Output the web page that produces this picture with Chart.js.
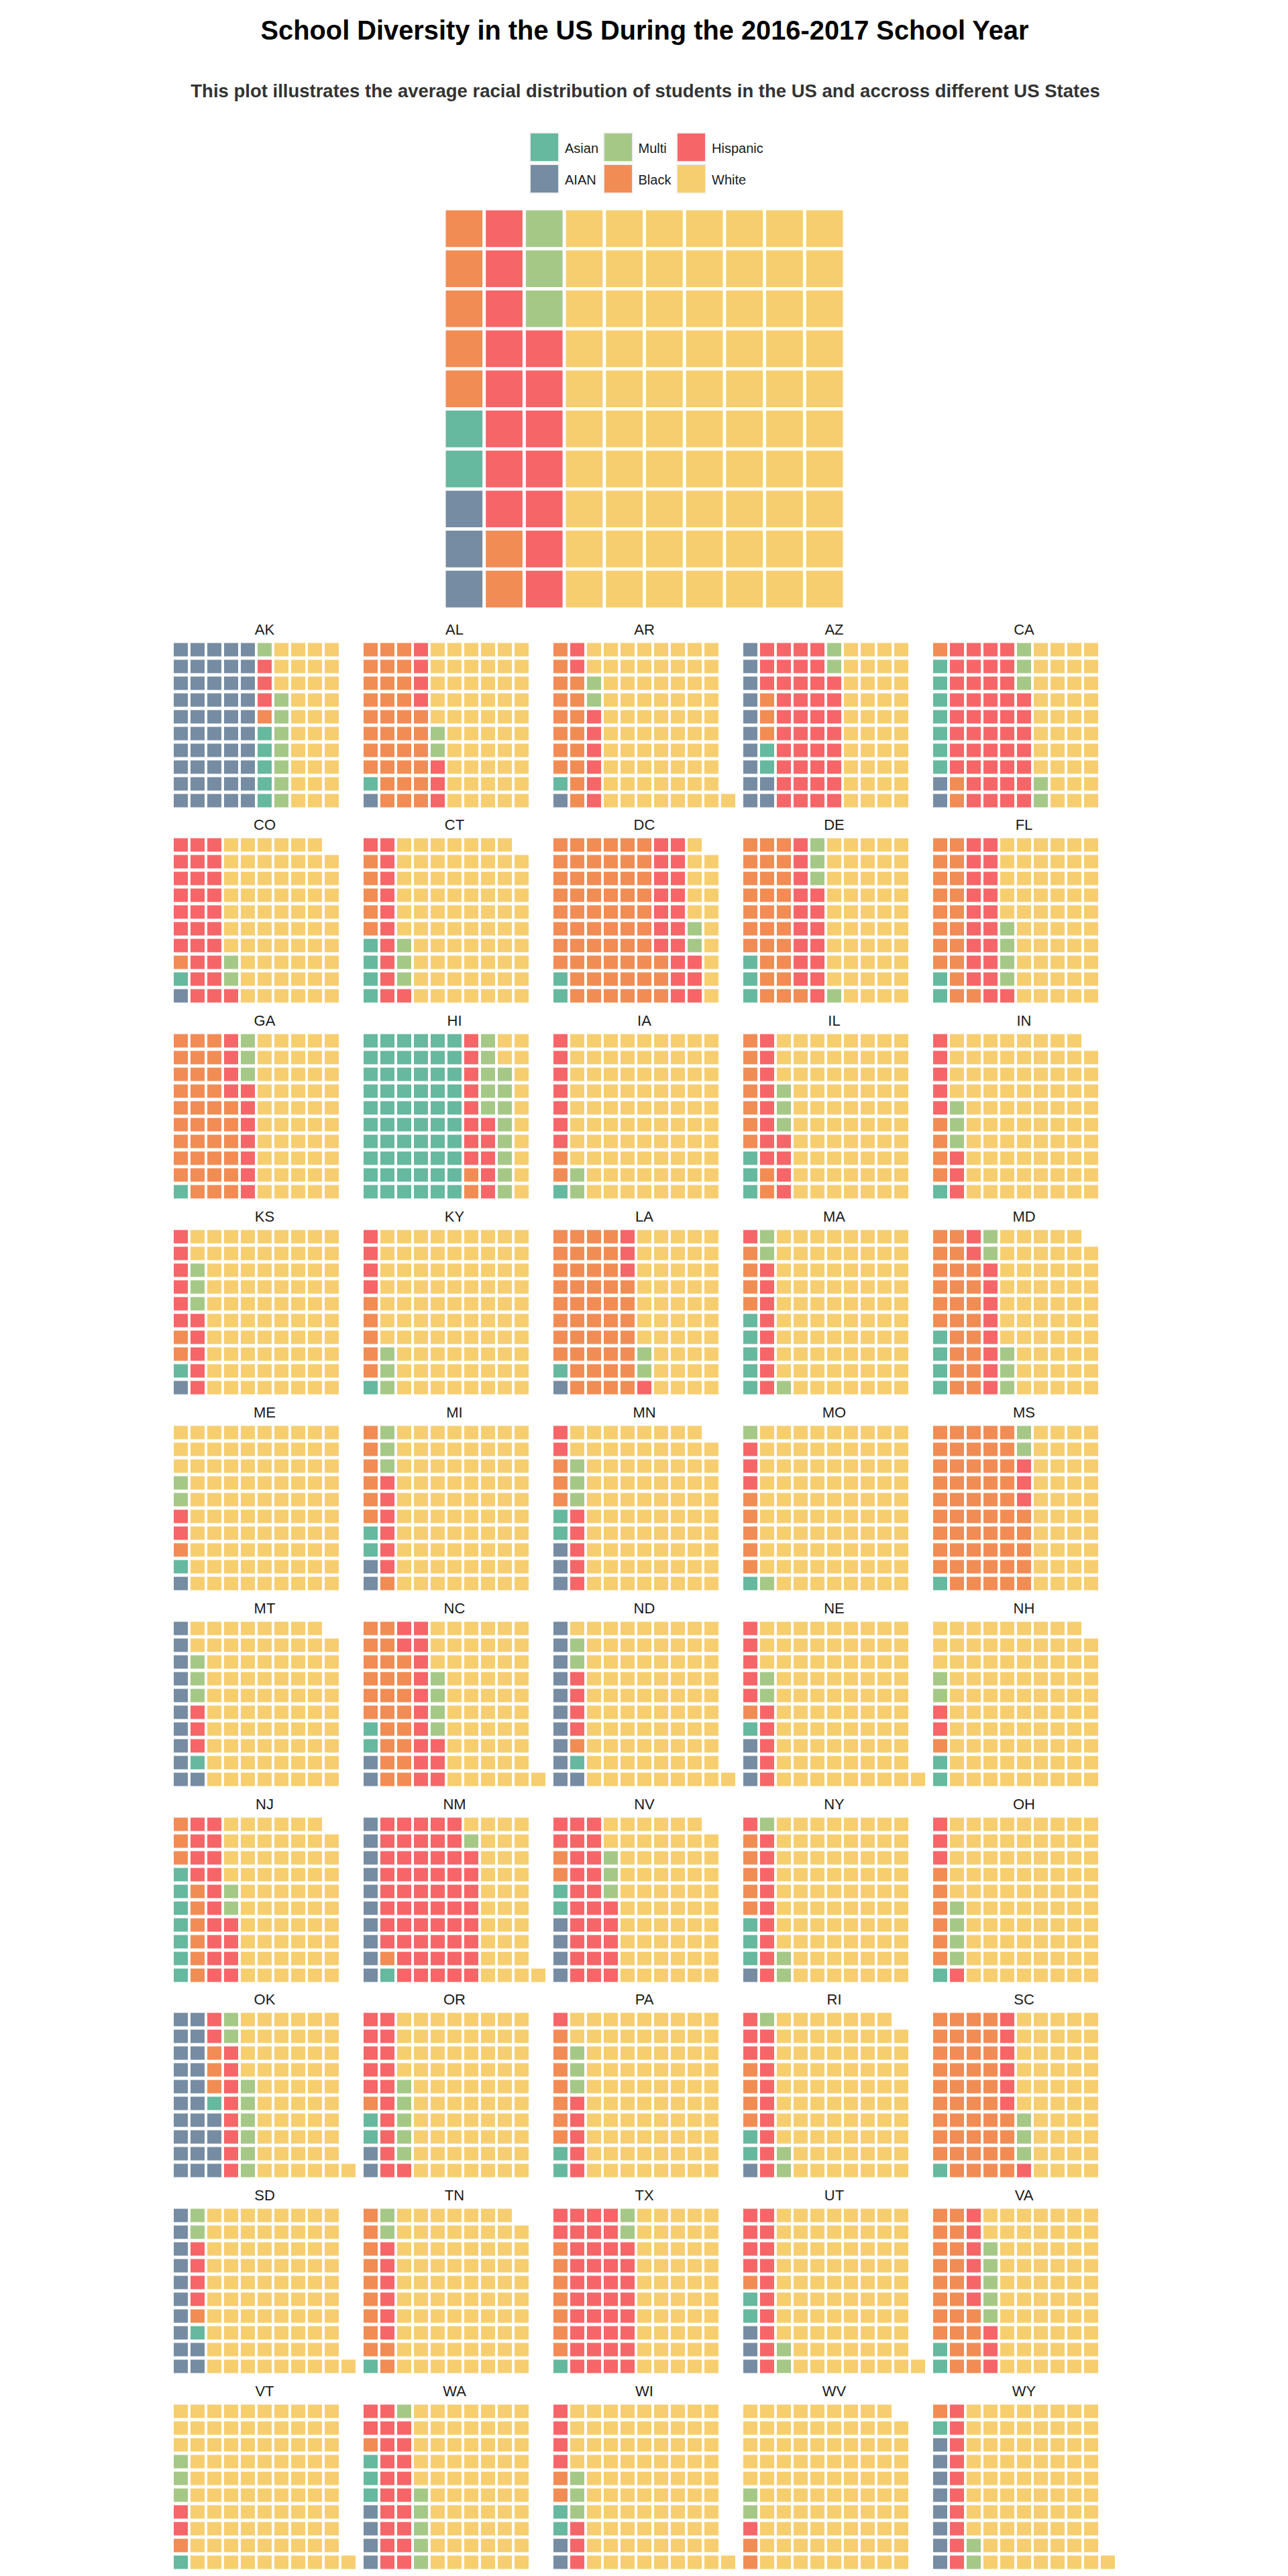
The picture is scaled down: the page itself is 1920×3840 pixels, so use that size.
<!DOCTYPE html>
<html>
<head>
<meta charset="utf-8">
<title>School Diversity in the US During the 2016-2017 School Year</title>
<script src="https://cdn.jsdelivr.net/npm/chart.js@4.4.1/dist/chart.umd.min.js"></script>
<style>
html,body{margin:0;padding:0;background:#ffffff;}
body{position:relative;width:1920px;height:3840px;overflow:hidden;font-family:"Liberation Sans",Arial,Helvetica,sans-serif;}
.abs{position:absolute;white-space:nowrap;line-height:1;}
#title{left:0;width:1922px;text-align:center;top:26px;font-size:39.8px;font-weight:bold;color:#000000;}
#subtitle{left:0;width:1924px;text-align:center;top:122px;font-size:27.5px;font-weight:bold;color:#333333;}
.key{position:absolute;width:41px;height:41px;border:2px solid #f0f0f0;}
.klabel{position:absolute;font-size:20px;line-height:1;color:#1a1a1a;white-space:nowrap;}
.plabel{position:absolute;width:200px;text-align:center;font-size:22px;line-height:1;color:#1a1a1a;}
canvas{position:absolute;display:block;}
</style>
</head>
<body>
<div id="title" class="abs">School Diversity in the US During the 2016-2017 School Year</div>
<div id="subtitle" class="abs">This plot illustrates the average racial distribution of students in the US and accross different US States</div>
<div id="legend"></div>
<div id="panels"></div>
<script>
// ---- data ----
const categories = ['AIAN', 'Asian', 'Black', 'Hispanic', 'Multi', 'White'];
const legendOrder = ['Asian', 'Multi', 'Hispanic', 'AIAN', 'Black', 'White'];
const usAverage = [3, 2, 7, 15, 3, 70];
const states = ['AK','AL','AR','AZ','CA','CO','CT','DC','DE','FL','GA','HI','IA','IL','IN','KS','KY','LA','MA','MD','ME','MI','MN','MO','MS','MT','NC','ND','NE','NH','NJ','NM','NV','NY','OH','OK','OR','PA','RI','SC','SD','TN','TX','UT','VA','VT','WA','WI','WV','WY'];
const aian     = [50,1,1,12,2,1,0,0,0,0,0,0,0,0,0,1,0,1,0,0,1,2,3,0,0,11,2,11,3,0,0,10,4,1,0,24,2,0,1,0,12,0,0,3,0,0,4,2,0,8];
const asian    = [5,1,1,2,7,1,4,2,3,2,1,60,1,3,1,1,1,1,5,4,1,2,2,1,1,1,2,1,1,2,7,1,2,3,1,1,2,2,2,1,1,1,1,2,2,1,3,2,0,1];
const black    = [1,34,16,3,3,1,5,61,28,19,35,2,2,9,4,2,5,45,4,24,1,7,3,5,54,0,24,1,1,1,9,1,2,5,6,3,1,7,4,43,1,11,7,1,22,1,1,2,2,1];
const hispanic = [3,7,8,41,45,28,12,20,16,20,11,13,7,12,8,11,4,4,9,10,2,6,7,3,3,3,15,4,10,2,18,56,27,10,4,10,16,6,12,7,4,6,40,14,9,2,21,7,1,10];
const multi    = [8,2,2,2,5,2,3,2,4,4,3,13,2,3,3,3,3,2,3,5,2,3,3,2,2,3,4,2,2,2,2,1,3,3,4,8,5,3,3,3,2,2,2,2,5,3,6,3,2,2];
const white    = [33,55,73,40,38,66,75,14,49,55,50,12,88,73,83,82,87,47,79,56,93,80,81,89,40,81,54,82,84,92,63,32,61,78,85,55,74,82,77,46,81,79,50,79,62,94,65,85,94,79];
const columnLabels = ['1','2','3','4','5','6','7','8','9','10','11'];
const rowCount = 10;

// ---- styles ----
const palette = {
  AIAN: '#768CA2', Asian: '#66B89E', Black: '#F18C55',
  Hispanic: '#F66568', Multi: '#A6C887', White: '#F6CE6F'
};

function buildCells(values) {
  let idx = 0;
  return values.map(v => {
    const pts = [];
    for (let k = 0; k < v; k++) {
      const c = Math.floor(idx / rowCount);
      const r = idx % rowCount;
      pts.push({ x: columnLabels[c], y: [r, r + 1] });
      idx++;
    }
    return pts;
  });
}

function makeWaffle(canvas, values, nCols, bw) {
  const cells = buildCells(values);
  return new Chart(canvas, {
    type: 'bar',
    data: {
      labels: columnLabels.slice(0, nCols),
      datasets: categories.map((cat, i) => ({
        label: cat,
        data: cells[i],
        backgroundColor: palette[cat],
        borderColor: '#ffffff',
        borderWidth: bw,
        borderSkipped: false,
        grouped: false,
        barPercentage: 1,
        categoryPercentage: 1,
        inflateAmount: 0
      }))
    },
    options: {
      responsive: false,
      maintainAspectRatio: false,
      animation: false,
      devicePixelRatio: 1,
      events: [],
      layout: { padding: 0 },
      plugins: { legend: { display: false }, tooltip: { enabled: false }, title: { display: false } },
      scales: {
        x: { type: 'category', display: false, offset: true, grid: { display: false } },
        y: { type: 'linear', display: false, min: 0, max: rowCount }
      }
    }
  });
}

function addCanvas(left, top, w, h) {
  const cv = document.createElement('canvas');
  cv.width = w; cv.height = h;
  cv.style.left = left + 'px'; cv.style.top = top + 'px';
  cv.style.width = w + 'px'; cv.style.height = h + 'px';
  document.getElementById('panels').appendChild(cv);
  return cv;
}

// ---- legend (HTML) ----
const legend = document.getElementById('legend');
const legX0 = 789, legDX = 109.5, legY0 = 197, legDY = 46.5;
legendOrder.forEach((cat, i) => {
  const col = i % 3, row = Math.floor(i / 3);
  const k = document.createElement('div');
  k.className = 'key';
  k.style.left = (legX0 + col * legDX) + 'px';
  k.style.top = (legY0 + row * legDY) + 'px';
  k.style.background = palette[cat];
  legend.appendChild(k);
  const t = document.createElement('div');
  t.className = 'klabel';
  t.textContent = cat;
  t.style.left = (legX0 + col * legDX + 53) + 'px';
  t.style.top = (legY0 + row * legDY + 14) + 'px';
  legend.appendChild(t);
});

// ---- main US waffle ----
makeWaffle(addCanvas(662, 311, 597, 597), usAverage, 10, 2.5);

// ---- state panels ----
const perRow = 5;
const pX0 = 257, pDX = 283, pY0 = 955.5, pDY = 291.85;
const pW = 275, pH = 250;
states.forEach((st, i) => {
  const c = i % perRow, r = Math.floor(i / perRow);
  const left = Math.round(pX0 + c * pDX);
  const top = Math.round(pY0 + r * pDY);
  const vals = [aian[i], asian[i], black[i], hispanic[i], multi[i], white[i]];
  makeWaffle(addCanvas(left, top, pW, pH), vals, 11, { top: 2.5, bottom: 2.5, left: 2, right: 2 });
  const lab = document.createElement('div');
  lab.className = 'plabel';
  lab.textContent = st;
  lab.style.left = (left + pW / 2 - 100) + 'px';
  lab.style.top = (top - 9 - 18.6) + 'px';
  document.getElementById('panels').appendChild(lab);
});
</script>
</body>
</html>
